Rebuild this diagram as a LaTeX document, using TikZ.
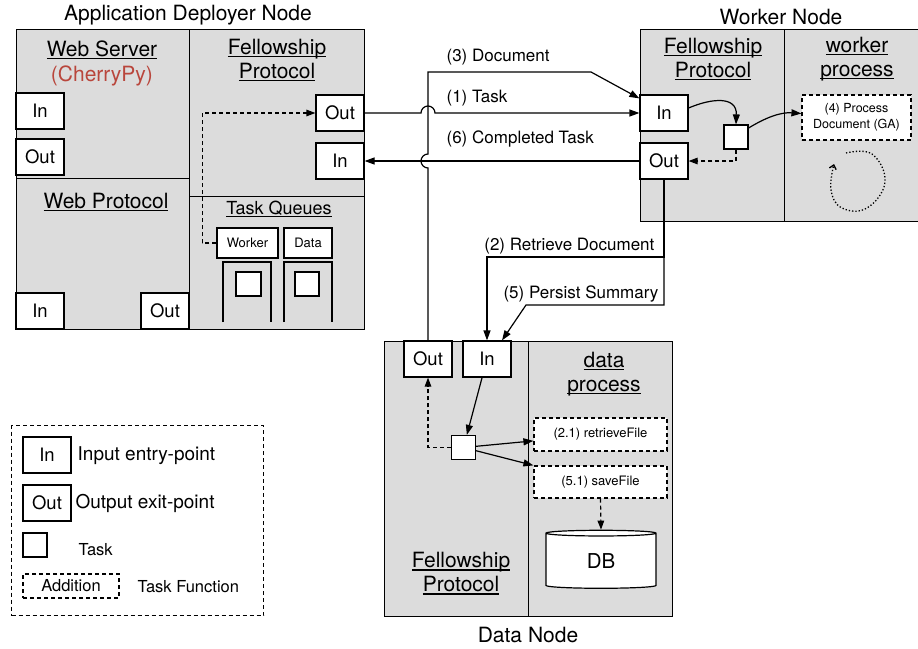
\documentclass[tikz,border=0pt]{standalone}
\usepackage{fontspec}
\setmainfont{TeX Gyre Heros}
\usetikzlibrary{arrows.meta, positioning, shapes.geometric}

\definecolor{boxgray}{RGB}{220,220,220}
\definecolor{cherry}{RGB}{185,70,60}
\newcommand{\pxfont}[2]{\fontsize{#1}{#2}\selectfont}
\newcommand{\uword}[1]{\setbox0\hbox{#1}\rlap{\vrule width\wd0 height -1.6pt depth 2.8pt}\box0}

\begin{document}
\begin{tikzpicture}[x=1pt, y=-1pt, line width=1.2pt,
  region/.style={draw, fill=boxgray, anchor=north west, inner sep=0pt},
  heading/.style={font=\pxfont{21}{24}, align=center, inner sep=0pt},
  port/.style={draw, fill=white, inner sep=0pt, minimum width=48pt,
    minimum height=36pt, font=\pxfont{18.5}{20}},
  task/.style={draw, fill=white, inner sep=0pt, minimum width=24pt, minimum height=24pt},
  queuehead/.style={draw, fill=white, inner sep=0pt, minimum height=30pt, font=\pxfont{13}{15}},
  func/.style={draw, fill=white, dash pattern=on 4pt off 3pt, inner sep=0pt, align=center},
  flowlabel/.style={font=\pxfont{17}{20}, anchor=west, inner sep=0pt},
  legendtext/.style={anchor=west, inner sep=0pt},
  arr/.style={-{Triangle[length=10pt, width=7pt]}},
  dasharr/.style={dash pattern=on 4pt off 3pt, -{Triangle[length=9pt, width=6.5pt]}},
]
\useasboundingbox (0,0) rectangle (918,648);

% Application Deployer Node
\node[heading] (adnTitle) at (188,15) {Application Deployer Node};
\node[region, minimum width=173pt, minimum height=149pt] (webServer) at (16,29) {};
\node[region, minimum width=173pt, minimum height=151pt] (webProto) at (16,178) {};
\node[region, minimum width=175pt, minimum height=167pt] (fellowA) at (189,29) {};
\node[region, minimum width=175pt, minimum height=133pt] (queues) at (189,196) {};

\node[heading, font=\pxfont{21}{25}] (webServerTitle) at (102,63) {\uword{Web Server}\\\textcolor{cherry}{(CherryPy)}};
\node[heading] (webProtoTitle) at (106,202) {\uword{Web Protocol}};
\node[heading] (fellowATitle) at (277,60) {\uword{Fellowship}\\\uword{Protocol}};
\node[heading, font=\pxfont{18}{20}] (queuesTitle) at (279,209) {\uword{Task Queues}};

\node[port] (wsIn) at (40,111) {In};
\node[port] (wsOut) at (40,157) {Out};
\node[port] (wpIn) at (40,311) {In};
\node[port] (wpOut) at (165,311) {Out};
\node[port] (faOut) at (340,113) {Out};
\node[port] (faIn) at (340,161) {In};

% Task queues
\node[queuehead, minimum width=61pt] (qWorker) at (247.5,243) {Worker};
\node[queuehead, minimum width=48pt] (qData) at (308,243) {Data};
\foreach \qa/\qb in {223/271, 284/332} {
  \draw (\qa,322) -- (\qa,262) -- (\qb,262) -- (\qb,322);
}
\node[task, minimum width=25pt] (qWorkerTask) at (248.5,284) {};
\node[task] (qDataTask) at (307,284) {};
\draw[dasharr] (qWorker.west) -- ++(-14,0) |- (faOut.west);

% Worker Node
\node[heading] (wnTitle) at (781,17) {Worker Node};
\node[region, minimum width=144pt, minimum height=192pt] (fellowW) at (640,29) {};
\node[region, minimum width=134pt, minimum height=192pt] (workerP) at (784,29) {};
\node[heading] (fellowWTitle) at (713,59) {\uword{Fellowship}\\\uword{Protocol}};
\node[heading] (workerPTitle) at (857,59) {\uword{worker}\\\uword{process}};

\node[port] (wIn) at (664,113) {In};
\node[port] (wOut) at (664,161) {Out};
\node[task] (wTask) at (736,137) {};
\node[func, minimum width=109pt, minimum height=45pt, font=\pxfont{12.5}{16}] (proc) at (856.5,117.5) {(4) Process\\Document (GA)};

\draw[arr] ([yshift=5pt]wIn.east) .. controls (712,98) and (737,96) .. (wTask.north);
\draw[arr] ([yshift=9pt]wTask.east) .. controls (765,118) and (780,112) .. ([yshift=4pt]proc.west);
\draw[dasharr] (wTask.south) |- (wOut.east);
\draw[dotted, line width=1.3pt, -{Straight Barb[length=4pt, width=7pt]}]
  plot[smooth, tension=0.7] coordinates {(846,153) (872,154) (885,182) (867,208) (842,208) (831,190) (834,164)};

% Data Node
\node[heading] (dnTitle) at (528,635) {Data Node};
\node[region, minimum width=144pt, minimum height=275pt] (fellowD) at (384,341) {};
\node[region, minimum width=144pt, minimum height=275pt] (dataP) at (528,341) {};
\node[heading] (dataPTitle) at (604,374) {\uword{data}\\\uword{process}};
\node[heading] (fellowDTitle) at (461,573.5) {\uword{Fellowship}\\\uword{Protocol}};

\node[port] (dOut) at (428,359) {Out};
\node[port] (dIn) at (487,359) {In};
\node[task] (dTask) at (463.5,447.5) {};
\node[func, minimum width=133pt, minimum height=33pt, font=\pxfont{13}{15}] (rFile) at (600.5,434.5) {(2.1) retrieveFile};
\node[func, minimum width=133pt, minimum height=32pt, font=\pxfont{13}{15}] (sFile) at (600.5,482) {(5.1) saveFile};
\node[draw, fill=white, cylinder, shape border rotate=90, aspect=0.2, inner sep=0pt,
  minimum width=110pt, minimum height=58pt, font=\pxfont{20.5}{22}] (db) at (601,561) {DB};

\draw[arr] (dIn) -- (dTask);
\draw[arr] (dTask) -- (rFile);
\draw[arr] (dTask) -- (sFile.north west);
\draw[dasharr] (dTask.west) -| (dOut.south);
\draw[dasharr] (sFile.south) -- (db.north);

% Links between the nodes
\draw[arr] (faOut.east) -- (421,113) arc[start angle=180, end angle=0, radius=7pt] -- (wIn.west);
\draw[arr] (wOut.west) -- (faIn.east);
\draw[arr] (dOut.north) -- (428,168) arc[start angle=270, end angle=90, radius=7pt]
  -- (428,72) -- (591,72) -- ([yshift=-4pt]wIn.north west);
\draw[arr] (wOut.south) |- (487,257) -- (dIn.north);
\draw[arr] (wOut.south) |- (526,305) -- ([xshift=15pt]dIn.north);

\node[flowlabel] (docLabel) at (446,57) {(3) Document};
\node[flowlabel] (taskLabel) at (446,98) {(1) Task};
\node[flowlabel] (doneLabel) at (446,139) {(6) Completed Task};
\node[flowlabel, anchor=east] (retrLabel) at (655,246) {(2) Retrieve Document};
\node[flowlabel, anchor=east] (persistLabel) at (659,294) {(5) Persist Summary};

% Legend
\node[draw, dash pattern=on 4pt off 3pt, anchor=north west, inner sep=0pt,
  minimum width=252pt, minimum height=190pt] (legend) at (11,425) {};
\node[port] (lgIn) at (47,455) {In};
\node[legendtext, font=\pxfont{19}{20}] (lgInText) at (77,456) {Input entry-point};
\node[port] (lgOut) at (47,503) {Out};
\node[legendtext, font=\pxfont{19}{20}] (lgOutText) at (75,503) {Output exit-point};
\node[task] (lgTask) at (35,545) {};
\node[legendtext, font=\pxfont{16.5}{18}] (lgTaskText) at (78,550) {Task};
\node[func, minimum width=96pt, minimum height=24pt, font=\pxfont{16.5}{18}] (lgFn) at (71,586) {Addition};
\node[legendtext, font=\pxfont{16.5}{18}] (lgFnText) at (137,587) {Task Function};
\end{tikzpicture}
\end{document}
